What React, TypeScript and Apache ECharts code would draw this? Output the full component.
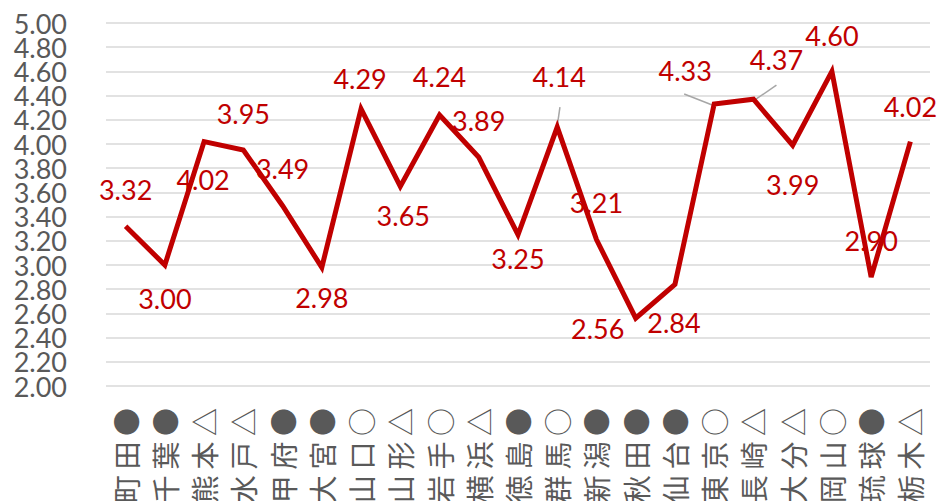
import React, { useEffect, useRef } from "react";
import * as echarts from "echarts";

const categories = [
  "町田●", "千葉●", "熊本△", "水戸△", "甲府●", "大宮●", "山口○", "山形△",
  "岩手○", "横浜△", "徳島●", "群馬○", "新潟●", "秋田●", "仙台●", "東京○",
  "長崎△", "大分△", "岡山○", "琉球●", "栃木△",
];
const values = [
  3.32, 3.0, 4.02, 3.95, 3.49, 2.98, 4.29, 3.65, 4.24, 3.89, 3.25, 4.14, 3.21,
  2.56, 2.84, 4.33, 4.37, 3.99, 4.6, 2.9, 4.02,
];
const yMin = 2;
const yMax = 5;
const yStep = 0.2;
// label offsets [dx, dy] from the point
const labelOffsets: number[][] = [
  [0, -37], [0, 33], [-1, 38], [0, -37], [0, -37], [0, 30], [-1, -30], [3, 29],
  [0, -38], [0, -37], [0, 24], [2, -51], [0, -37], [-38, 10], [-1, 38], [-29, -34],
  [23, -40], [0, 39], [0, -36], [0, -37], [0, -35],
];
// leader lines: [index, x1, y1, x2, y2] offsets from the point
const leaders: number[][] = [
  [11, 2.7, -20, 0, -1],
  [15, -30, -10, -2, 1],
  [16, 23, -14, 1, 1],
];

const RED = "#C00000";
const GREY = "#595959";
const Y_LABEL_FONT = { fill: GREY, fontSize: 27, fontFamily: "Lato" };

export default function App() {
  const ref = useRef<HTMLDivElement>(null);
  useEffect(() => {
    if (!ref.current) return;
    const chart = echarts.init(ref.current, undefined, { renderer: "svg" });
    chart.setOption({
      animation: false,
      grid: {
        left: 106,
        right: 10,
        top: 23,
        bottom: 115,
        containLabel: false,
        outerBoundsMode: "none",
      },
      xAxis: {
        type: "category",
        data: categories.map((c) => c.split("").join("\u2009")),
        axisLine: { show: false },
        axisTick: { show: false },
        axisLabel: {
          rotate: 90,
          interval: 0,
          margin: 22,
          color: GREY,
          fontSize: 28,
          fontFamily: "Noto Sans CJK JP",
        },
      },
      yAxis: {
        type: "value",
        min: yMin,
        max: yMax,
        interval: yStep,
        axisLine: { show: false },
        axisTick: { show: false },
        axisLabel: {
          margin: 39,
          color: GREY,
          fontSize: 27,
          fontFamily: "Lato",
          showMinLabel: false,
          showMaxLabel: false,
          hideOverlap: false,
          formatter: (v: number) => v.toFixed(2),
        },
        splitLine: { lineStyle: { color: "#d9d9d9", width: 1.5 } },
      },
      series: [
        {
          type: "line",
          data: values,
          symbol: "circle",
          symbolSize: 1,
          showSymbol: true,
          itemStyle: { color: "rgba(0,0,0,0)" },
          lineStyle: { color: RED, width: 5, join: "miter" },
          label: {
            show: true,
            position: "inside",
            color: RED,
            fontSize: 27,
            fontFamily: "Lato",
            formatter: (p: any) => Number(p.value).toFixed(2),
          },
          labelLine: { show: false },
          labelLayout: (p: any) => ({
            dx: labelOffsets[p.dataIndex][0],
            dy: labelOffsets[p.dataIndex][1],
            hideOverlap: false,
          }),
        },
      ],
    });
    const graphics: any[] = leaders.map((l) => {
      const [px, py] = chart.convertToPixel({ xAxisIndex: 0, yAxisIndex: 0 }, [
        l[0],
        values[l[0]],
      ]) as number[];
      return {
        type: "line",
        shape: { x1: px + l[1], y1: py + l[2], x2: px + l[3], y2: py + l[4] },
        style: { stroke: "#a6a6a6", lineWidth: 1.5 },
        z: 1,
      };
    });
    // end labels of the value axis (the axis drops them when they crowd)
    [yMin, yMax].forEach((v) => {
      const [, py] = chart.convertToPixel({ xAxisIndex: 0, yAxisIndex: 0 }, [0, v]) as number[];
      const gx = chart.convertToPixel({ xAxisIndex: 0, yAxisIndex: 0 }, [0, v]) as number[];
      const gridLeft = gx[0] - (gx[0] - 106);
      graphics.push({
        type: "text",
        x: gridLeft - 39,
        y: py,
        style: {
          ...Y_LABEL_FONT,
          text: v.toFixed(2),
          align: "right",
          verticalAlign: "middle",
        },
      });
    });
    chart.setOption({ graphic: graphics });
    return () => chart.dispose();
  }, []);
  return <div ref={ref} style={{ width: 940, height: 501, position: "absolute", left: 0, top: 0 }} />;
}
